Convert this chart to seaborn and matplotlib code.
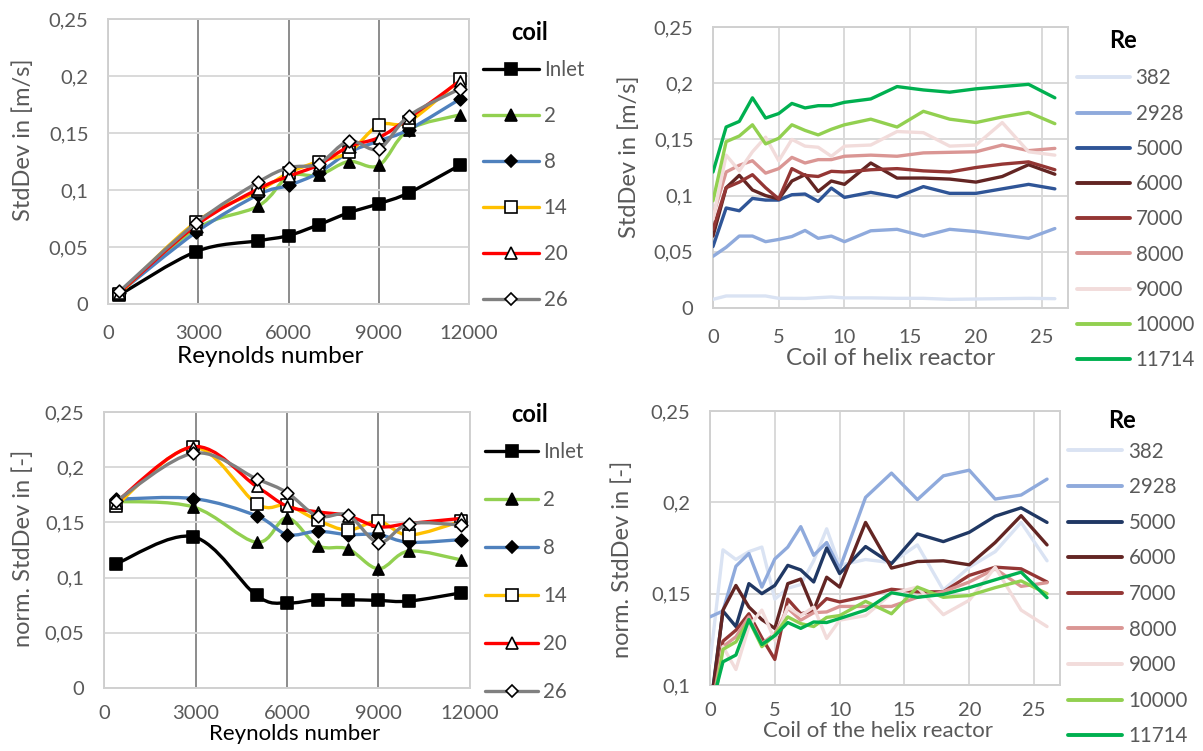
import numpy as np
import pandas as pd
import matplotlib
matplotlib.use("Agg")
import matplotlib.pyplot as plt
import seaborn as sns
from matplotlib.path import Path
from matplotlib.patches import PathPatch
from matplotlib.lines import Line2D
from matplotlib.ticker import FixedLocator, FuncFormatter

# ---------------- data ----------------
reynolds = [382, 2928, 5000, 6000, 7000, 8000, 9000, 10000, 11714]
coil_names = ["Inlet", "2", "8", "14", "20", "26"]

# StdDev [m/s] vs Reynolds number (top left)
std_inlet = [0.008, 0.046, 0.0555, 0.060, 0.0695, 0.080, 0.088, 0.0975, 0.122]
std_c2 = [0.010, 0.066, 0.086, 0.112, 0.113, 0.125, 0.1215, 0.153, 0.166]
std_c8 = [0.010, 0.063, 0.096, 0.104, 0.115, 0.133, 0.143, 0.153, 0.180]
std_c14 = [0.009, 0.072, 0.099, 0.115, 0.125, 0.133, 0.157, 0.160, 0.197]
std_c20 = [0.010, 0.069, 0.101, 0.112, 0.122, 0.138, 0.146, 0.163, 0.196]
std_c26 = [0.011, 0.071, 0.107, 0.1195, 0.123, 0.143, 0.136, 0.165, 0.189]

# normalised StdDev [-] vs Reynolds number (bottom left)
nstd_inlet = [0.1123, 0.137, 0.0838, 0.077, 0.080, 0.080, 0.0793, 0.0787, 0.0862]
nstd_c2 = [0.169, 0.164, 0.132, 0.154, 0.129, 0.126, 0.108, 0.124, 0.116]
nstd_c8 = [0.171, 0.1716, 0.156, 0.139, 0.142, 0.139, 0.139, 0.132, 0.1344]
nstd_c14 = [0.165, 0.218, 0.167, 0.1656, 0.152, 0.143, 0.151, 0.1386, 0.151]
nstd_c20 = [0.168, 0.2186, 0.1826, 0.1647, 0.1596, 0.156, 0.146, 0.149, 0.1536]
nstd_c26 = [0.169, 0.2126, 0.1895, 0.177, 0.1557, 0.1566, 0.1317, 0.1488, 0.1476]

# coil positions of the helix reactor (right panels)
coils = [0, 1, 2, 3, 4, 5, 6, 7, 8, 9, 10, 12, 14, 16, 18, 20, 22, 24, 26]

# StdDev [m/s] along the reactor (top right)
tr_382 = [0.0077, 0.0107, 0.0107, 0.0107, 0.0107, 0.0086, 0.0086, 0.0085, 0.0092, 0.0098, 0.009,
          0.009, 0.0086, 0.0086, 0.0077, 0.008, 0.0083, 0.0086, 0.0083]
tr_2928 = [0.046, 0.054, 0.064, 0.064, 0.059, 0.061, 0.0636, 0.069, 0.062, 0.064, 0.059,
           0.0687, 0.070, 0.064, 0.070, 0.068, 0.065, 0.062, 0.0707]
tr_5000 = [0.0547, 0.089, 0.0865, 0.0975, 0.096, 0.096, 0.1008, 0.1014, 0.0948, 0.1067, 0.0984,
           0.1029, 0.0987, 0.108, 0.102, 0.102, 0.106, 0.110, 0.106]
tr_6000 = [0.064, 0.107, 0.118, 0.105, 0.100, 0.097, 0.113, 0.1186, 0.1037, 0.113, 0.110,
           0.129, 0.1156, 0.1156, 0.1147, 0.112, 0.117, 0.1275, 0.119]
tr_7000 = [0.070, 0.107, 0.112, 0.1186, 0.107, 0.097, 0.124, 0.118, 0.117, 0.1216, 0.121,
           0.123, 0.124, 0.122, 0.121, 0.125, 0.128, 0.130, 0.123]
tr_8000 = [0.082, 0.121, 0.127, 0.131, 0.120, 0.124, 0.134, 0.129, 0.132, 0.132, 0.135,
           0.136, 0.135, 0.138, 0.1385, 0.139, 0.145, 0.140, 0.142]
tr_9000 = [0.079, 0.136, 0.122, 0.139, 0.152, 0.131, 0.150, 0.144, 0.143, 0.135, 0.144,
           0.145, 0.157, 0.156, 0.144, 0.145, 0.165, 0.139, 0.136]
tr_10000 = [0.0954, 0.148, 0.153, 0.163, 0.146, 0.151, 0.163, 0.158, 0.154, 0.159, 0.163,
            0.168, 0.161, 0.175, 0.168, 0.165, 0.170, 0.174, 0.164]
tr_11714 = [0.121, 0.161, 0.166, 0.187, 0.169, 0.173, 0.182, 0.178, 0.180, 0.180, 0.183,
            0.186, 0.197, 0.194, 0.192, 0.195, 0.197, 0.199, 0.187]

# normalised StdDev [-] along the reactor (bottom right)
br_382 = [0.112, 0.174, 0.1687, 0.173, 0.1755, 0.147, 0.153, 0.155, 0.168, 0.1855, 0.1655,
          0.1687, 0.167, 0.1767, 0.152, 0.1645, 0.173, 0.189, 0.168]
br_2928 = [0.1373, 0.1405, 0.165, 0.172, 0.1536, 0.169, 0.1755, 0.1867, 0.171, 0.178, 0.1636,
           0.2027, 0.216, 0.2015, 0.2145, 0.2176, 0.2018, 0.204, 0.2127]
br_5000 = [0.086, 0.1405, 0.132, 0.1555, 0.150, 0.1545, 0.1655, 0.163, 0.1564, 0.175, 0.161,
           0.1758, 0.1664, 0.1827, 0.1785, 0.1836, 0.1924, 0.197, 0.189]
br_6000 = [0.084, 0.141, 0.1545, 0.1427, 0.1358, 0.131, 0.1555, 0.158, 0.141, 0.159, 0.1536,
           0.189, 0.164, 0.1676, 0.168, 0.1658, 0.178, 0.1927, 0.1767]
br_7000 = [0.081, 0.124, 0.130, 0.139, 0.1258, 0.114, 0.147, 0.139, 0.1405, 0.1473, 0.1455,
           0.1485, 0.1524, 0.151, 0.151, 0.160, 0.1645, 0.1636, 0.1564]
br_8000 = [0.082, 0.121, 0.1264, 0.1373, 0.1227, 0.128, 0.142, 0.1355, 0.1396, 0.140, 0.143,
           0.143, 0.143, 0.148, 0.151, 0.1564, 0.1636, 0.154, 0.156]
br_9000 = [0.070, 0.121, 0.1085, 0.132, 0.141, 0.1245, 0.1427, 0.138, 0.1427, 0.1255, 0.1355,
           0.138, 0.150, 0.1536, 0.1385, 0.1464, 0.1645, 0.141, 0.132]
br_10000 = [0.077, 0.1195, 0.1236, 0.1355, 0.121, 0.1273, 0.1373, 0.1336, 0.132, 0.137, 0.138,
            0.1458, 0.139, 0.1536, 0.148, 0.149, 0.1533, 0.157, 0.150]
br_11714 = [0.085, 0.1127, 0.1164, 0.1358, 0.1222, 0.127, 0.1342, 0.131, 0.1345, 0.1342, 0.1364,
            0.141, 0.1505, 0.148, 0.1496, 0.1533, 0.1576, 0.1618, 0.1478]

re_labels = ["382", "2928", "5000", "6000", "7000", "8000", "9000", "10000", "11714"]

# ---------------- style ----------------
sns.set_theme(style="white")
plt.rcParams["font.family"] = ["Lato", "DejaVu Sans"]

GRAY_TXT = "#595959"
TICK_FS = 14.5
LABEL_FS = 17.5
LABEL_FS_BOT = 16
YLABEL_FS = 17
LEG_FS = 14.8
TITLE_FS = 17

coil_colors = ["#000000", "#92D050", "#4F81BD", "#FFC000", "#FF0000", "#808080"]
coil_markers = ["s", "^", "D", "s", "^", "D"]
coil_mfc = ["black", "black", "black", "white", "white", "white"]
coil_msize = [8, 8, 6.5, 8, 8, 6.5]

re_colors_top = ["#DAE3F3", "#8FAADC", "#2F5597", "#632523", "#943634", "#DA9694",
                 "#F2DCDB", "#92D050", "#00B050"]
re_colors_bot = ["#DAE3F3", "#8FAADC", "#203864", "#632523", "#943634", "#DA9694",
                 "#F2DCDB", "#92D050", "#00B050"]

W, H = 1203, 751
fig = plt.figure(figsize=(W / 100, H / 100), dpi=100)


def fmt_comma(v, pos=None):
    s = ("%.2f" % v).rstrip("0").rstrip(".")
    return s.replace(".", ",")


def smooth_path(x, y):
    pts = np.column_stack([np.asarray(x, float), np.asarray(y, float)])
    n = len(pts)
    verts = [pts[0]]
    codes = [Path.MOVETO]
    for i in range(n - 1):
        p0 = pts[max(i - 1, 0)]
        p1 = pts[i]
        p2 = pts[i + 1]
        p3 = pts[min(i + 2, n - 1)]
        verts += [p1 + (p2 - p0) / 6.0, p2 - (p3 - p1) / 6.0, p2]
        codes += [Path.CURVE4] * 3
    return Path(verts, codes)


def style_axes(ax, ylim, yticks, xlim, xticks, left_panel, xpad):
    ax.set_xlim(*xlim)
    ax.set_ylim(*ylim)
    ax.yaxis.set_major_locator(FixedLocator(yticks))
    ax.yaxis.set_major_formatter(FuncFormatter(fmt_comma))
    ax.xaxis.set_major_locator(FixedLocator(xticks))
    ax.xaxis.set_major_formatter(FuncFormatter(lambda v, p: "%d" % v))
    ax.tick_params(axis="both", length=0, labelsize=TICK_FS, labelcolor=GRAY_TXT)
    ax.tick_params(axis="x", pad=xpad)
    ax.tick_params(axis="y", pad=14)
    ax.grid(True, axis="y", color="#D9D9D9", lw=1.4)
    if left_panel:
        ax.grid(True, axis="x", color="#8C8C8C", lw=1.4)
    else:
        ax.grid(True, axis="x", color="#D9D9D9", lw=1.4)
    ax.set_axisbelow(True)
    for sp in ax.spines.values():
        sp.set_color("#D0D0D0")
        sp.set_linewidth(1.4)


def draw_left(ax, series):
    for i, ys in enumerate(series):
        patch = PathPatch(smooth_path(reynolds, ys), fill=False, edgecolor=coil_colors[i],
                          lw=2.4, zorder=3 + 2 * i, capstyle="round", joinstyle="round")
        ax.add_patch(patch)
        sns.scatterplot(x=reynolds, y=ys, marker=coil_markers[i], s=coil_msize[i] ** 2,
                        color=coil_mfc[i], edgecolor="black", linewidth=1.2,
                        zorder=4 + 2 * i, ax=ax, legend=False, clip_on=False)


def add_title(text, xc, yc):
    fig.text(xc / W, 1 - yc / H, text, ha="center", va="center", fontsize=TITLE_FS,
             fontweight="bold", color="black")


def coil_legend(ax, x, y, spacing, hlen, hpad):
    handles = [Line2D([], [], color=coil_colors[i], lw=2.4, marker=coil_markers[i],
                      markersize=coil_msize[i], markerfacecolor=coil_mfc[i],
                      markeredgecolor="black", markeredgewidth=1.2)
               for i in range(len(coil_names))]
    leg = ax.legend(handles, coil_names, loc="upper left",
                    bbox_to_anchor=(x / W, 1 - y / H), bbox_transform=fig.transFigure,
                    frameon=False, fontsize=LEG_FS, handlelength=hlen, handletextpad=hpad,
                    labelspacing=spacing, borderpad=0, borderaxespad=0)
    for t in leg.get_texts():
        t.set_color(GRAY_TXT)


def re_legend(ax, x, y, spacing, colors, hlen, hpad):
    handles = [Line2D([], [], color=c, lw=2.8) for c in colors]
    leg = ax.legend(handles, re_labels, loc="upper left",
                    bbox_to_anchor=(x / W, 1 - y / H), bbox_transform=fig.transFigure,
                    frameon=False, fontsize=LEG_FS, handlelength=hlen, handletextpad=hpad,
                    labelspacing=spacing, borderpad=0, borderaxespad=0)
    for t in leg.get_texts():
        t.set_color(GRAY_TXT)


def draw_right(ax, series, colors):
    df = pd.DataFrame({
        "coil": np.tile(coils, len(series)),
        "val": np.concatenate([np.asarray(s, float) for s in series]),
        "Re": np.repeat(re_labels, len(coils)),
    })
    sns.lineplot(data=df, x="coil", y="val", hue="Re", hue_order=re_labels,
                 palette=dict(zip(re_labels, colors)), lw=2.4, sort=False,
                 legend=False, ax=ax, zorder=3)


# ---------------- top left ----------------
ax1 = fig.add_axes([108 / W, 1 - 304 / H, 361 / W, 285 / H])
style_axes(ax1, (0, 0.25), [0, 0.05, 0.1, 0.15, 0.2, 0.25], (0, 12000),
           [0, 3000, 6000, 9000, 12000], True, 15)
draw_left(ax1, [std_inlet, std_c2, std_c8, std_c14, std_c20, std_c26])
ax1.set_xlabel("Reynolds number", fontsize=LABEL_FS, color="black")
ax1.set_ylabel("StdDev in [m/s]", fontsize=YLABEL_FS, color=GRAY_TXT)
ax1.xaxis.set_label_coords(0.45, -0.148)
ax1.yaxis.set_label_coords(-0.205, 0.575)
coil_legend(ax1, 483, 60.5, 1.26, 2.7, 0.25)
add_title("coil", 530, 33)

# ---------------- bottom left ----------------
ax3 = fig.add_axes([104 / W, 1 - 688 / H, 366 / W, 276 / H])
style_axes(ax3, (0, 0.25), [0, 0.05, 0.1, 0.15, 0.2, 0.25], (0, 12000),
           [0, 3000, 6000, 9000, 12000], True, 12)
draw_left(ax3, [nstd_inlet, nstd_c2, nstd_c8, nstd_c14, nstd_c20, nstd_c26])
ax3.set_xlabel("Reynolds number", fontsize=LABEL_FS_BOT, color="black")
ax3.set_ylabel("norm. StdDev in [-]", fontsize=YLABEL_FS, color=GRAY_TXT)
ax3.xaxis.set_label_coords(0.52, -0.1315)
ax3.yaxis.set_label_coords(-0.19, 0.507)
coil_legend(ax3, 485, 442.5, 1.36, 2.6, 0.22)
add_title("coil", 530, 415)

# ---------------- top right ----------------
ax2 = fig.add_axes([713 / W, 1 - 308 / H, 355 / W, 281 / H])
style_axes(ax2, (0, 0.25), [0, 0.05, 0.1, 0.15, 0.2, 0.25], (0, 27),
           [0, 5, 10, 15, 20, 25], False, 15)
draw_right(ax2, [tr_382, tr_2928, tr_5000, tr_6000, tr_7000, tr_8000, tr_9000,
                 tr_10000, tr_11714], re_colors_top)
ax2.set_xlabel("Coil of helix reactor", fontsize=LABEL_FS, color=GRAY_TXT)
ax2.set_ylabel("StdDev in [m/s]", fontsize=YLABEL_FS, color=GRAY_TXT)
ax2.xaxis.set_label_coords(0.5, -0.143)
ax2.yaxis.set_label_coords(-0.205, 0.537)
re_legend(ax2, 1077, 68.5, 0.74, re_colors_top, 2.6, 0.25)
add_title("Re", 1123, 40)

# ---------------- bottom right ----------------
ax4 = fig.add_axes([710 / W, 1 - 685 / H, 350 / W, 274 / H])
style_axes(ax4, (0.1, 0.25), [0.1, 0.15, 0.2, 0.25], (0, 27),
           [0, 5, 10, 15, 20, 25], False, 12)
draw_right(ax4, [br_382, br_2928, br_5000, br_6000, br_7000, br_8000, br_9000,
                 br_10000, br_11714], re_colors_bot)
ax4.set_xlabel("Coil of the helix reactor", fontsize=LABEL_FS_BOT, color=GRAY_TXT)
ax4.set_ylabel("norm. StdDev in [-]", fontsize=YLABEL_FS, color=GRAY_TXT)
ax4.xaxis.set_label_coords(0.48, -0.132)
ax4.yaxis.set_label_coords(-0.22, 0.46)
re_legend(ax4, 1068, 441.5, 0.76, re_colors_bot, 2.65, 0.3)
add_title("Re", 1122, 420)

fig.savefig("out.png", dpi=100)
